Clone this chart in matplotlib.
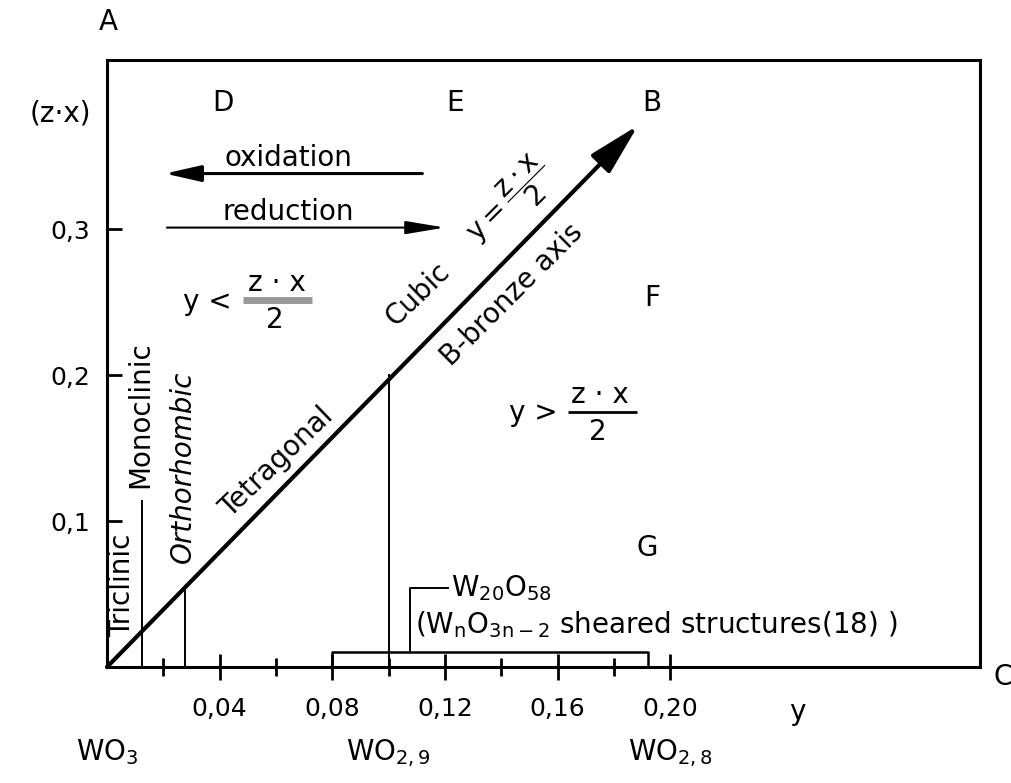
import matplotlib.pyplot as plt
import numpy as np

plt.rcParams.update({'font.family': 'DejaVu Sans', 'font.size': 20,
                     'mathtext.default': 'regular'})

# tick positions and labels (comma as decimal separator)
x_major = [0.04, 0.08, 0.12, 0.16, 0.20]
x_major_labels = ['0,04', '0,08', '0,12', '0,16', '0,20']
x_minor = [0.02, 0.06, 0.10, 0.14, 0.18]
y_major = [0.1, 0.2, 0.3]
y_major_labels = ['0,1', '0,2', '0,3']

# B-bronze axis: z*x = 2*y, from the origin to point B
bronze_x = [0.0, 0.1886]
bronze_y = [0.0, 0.371]

# phase boundaries (y values); these end on the bronze axis
phase_x = [0.0277, 0.100]
monoclinic_x = 0.0124
monoclinic_top = 0.114

# sheared structure range and the W20O58 marker
sheared_x = [0.080, 0.192]
sheared_h = 0.010
w20o58_x = 0.1076
w20o58_top = 0.054
w20o58_end = 0.121

# compositions below the y axis
comp_x = [0.0, 0.10, 0.20]
comp_labels = ['WO$_3$', 'WO$_{2,9}$', 'WO$_{2,8}$']

fig = plt.figure(figsize=(10.11, 7.83), dpi=100)
ax = fig.add_axes([0.1058, 0.1481, 0.8635, 0.7753])
ax.set_xlim(0, 0.310)
ax.set_ylim(0, 0.4158)
for s in ax.spines.values():
    s.set_linewidth(2.2)

ax.set_xticks(x_major, x_major_labels, fontsize=18)
ax.set_xticks(x_minor, minor=True)
ax.set_yticks(y_major, y_major_labels, fontsize=18)
ax.tick_params(axis='x', which='major', direction='inout', length=19, width=2, pad=12)
ax.tick_params(axis='x', which='minor', direction='inout', length=13, width=2)
ax.tick_params(axis='y', which='major', direction='in', length=11, width=2, pad=12)

# bronze axis arrow
ax.annotate('', xy=(bronze_x[1], bronze_y[1]), xytext=(bronze_x[0], bronze_y[0]),
            arrowprops=dict(arrowstyle='-|>,head_length=32,head_width=8',
                            mutation_scale=1, lw=3, color='k',
                            shrinkA=0, shrinkB=0))

# vertical phase boundaries up to the bronze axis (z*x = 2y)
for px in phase_x:
    ax.plot([px, px], [0, 2 * px], color='k', lw=1.4)
ax.plot([monoclinic_x, monoclinic_x], [0, monoclinic_top], color='k', lw=1.4)

# sheared structures bracket
ax.plot([sheared_x[0], sheared_x[0], sheared_x[1], sheared_x[1]],
        [0, sheared_h, sheared_h, 0], color='k', lw=1.8)
ax.plot([w20o58_x, w20o58_x, w20o58_end], [sheared_h, w20o58_top, w20o58_top],
        color='k', lw=1.4)
ax.text(w20o58_end + 0.001, w20o58_top, 'W$_{20}$O$_{58}$', fontsize=20,
        ha='left', va='center')
ax.text(0.1095, 0.029, '(W$_n$O$_{3n-2}$ sheared structures(18) )', fontsize=20,
        ha='left', va='center')

# oxidation / reduction arrows
ax.annotate('', xy=(0.0206, 0.338), xytext=(0.112, 0.338),
            arrowprops=dict(arrowstyle='-|>,head_length=22,head_width=5',
                            mutation_scale=1, lw=2.2, color='k',
                            shrinkA=0, shrinkB=0))
ax.annotate('', xy=(0.120, 0.301), xytext=(0.0213, 0.301),
            arrowprops=dict(arrowstyle='-|>,head_length=24,head_width=4',
                            mutation_scale=1, lw=1.5, color='k',
                            shrinkA=0, shrinkB=0))
ax.text(0.0643, 0.349, 'oxidation', ha='center', va='center')
ax.text(0.0643, 0.312, 'reduction', ha='center', va='center')

# region letters
for lab, lx, ly in [('D', 0.0412, 0.386), ('E', 0.1236, 0.386), ('B', 0.1936, 0.386),
                    ('F', 0.1936, 0.253), ('G', 0.192, 0.0815)]:
    ax.text(lx, ly, lab, ha='center', va='center')

# y < z.x/2 (left region)
ax.text(0.0355, 0.250, 'y <', ha='center', va='center')
ax.text(0.0604, 0.263, 'z · x', ha='center', va='center')
ax.text(0.0597, 0.238, '2', ha='center', va='center')
ax.plot([0.0483, 0.0728], [0.2514, 0.2514], color='#999999', lw=5,
        solid_capstyle='butt')

# y > z.x/2 (right region)
ax.text(0.1513, 0.174, 'y >', ha='center', va='center')
ax.text(0.1750, 0.186, 'z · x', ha='center', va='center')
ax.text(0.1744, 0.161, '2', ha='center', va='center')
ax.plot([0.1638, 0.1883], [0.1747, 0.1747], color='k', lw=2,
        solid_capstyle='butt')

# labels along the bronze axis
ax.text(0.1105, 0.255, 'Cubic', rotation=44, ha='center', va='center')
ax.text(0.0604, 0.140, 'Tetragonal', rotation=44, ha='center', va='center')
ax.text(0.1439, 0.255, 'B-bronze axis', rotation=45, ha='center', va='center')
ax.text(0.143, 0.318, r'$y = \dfrac{z \cdot x}{2}$', rotation=45, fontsize=20,
        ha='center', va='center')

# crystal system labels
ax.text(0.0270, 0.137, 'Orthorhombic', rotation=90, ha='center', va='center', style='italic')
ax.text(0.0117, 0.173, 'Monoclinic', rotation=90, ha='center', va='center')
ax.text(0.0055, 0.056, 'Triclinic', rotation=90, ha='center', va='center')

# axis annotations outside the frame
ax.text(-0.0167, 0.379, '(z·x)', ha='center', va='center', clip_on=False)
ax.text(0.245, -0.031, 'y', ha='center', va='center', clip_on=False)
for cx, cl in zip(comp_x, comp_labels):
    ax.text(cx, -0.064, cl, ha='center', va='baseline', clip_on=False)
fig.text(0.1068, 0.972, 'A', ha='center', va='center', fontsize=20)
fig.text(0.992, 0.1354, 'C', ha='center', va='center', fontsize=20)

fig.savefig('out.png', dpi=100)
